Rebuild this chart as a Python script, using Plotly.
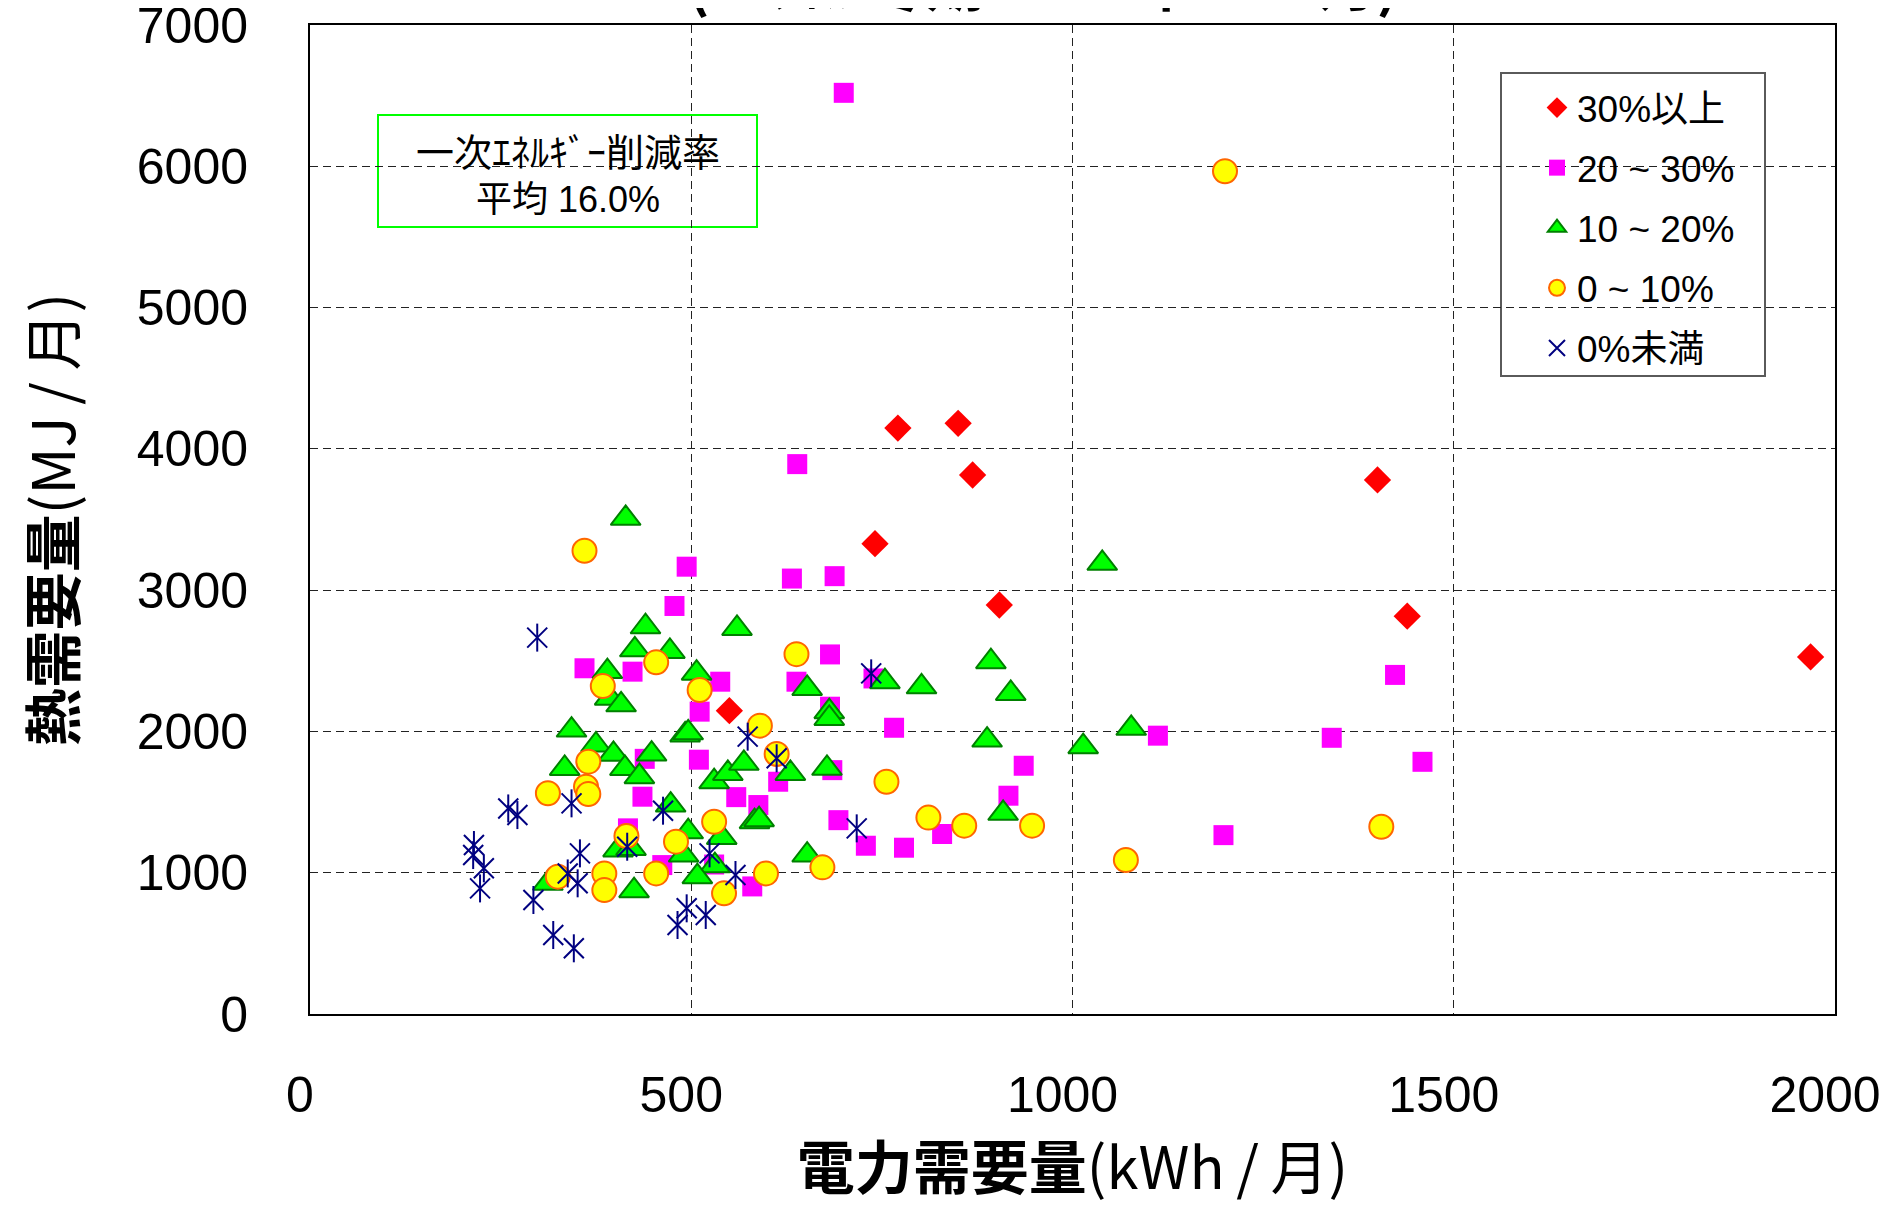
import plotly.graph_objects as go

# ---- data (kWh/月, MJ/月) ----
red_x = [771, 850, 869, 741, 904, 550, 1400, 1439, 1968]
red_y = [4147, 4181, 3815, 3329, 2895, 2147, 3780, 2816, 2527]

mag_x = [700, 639, 494, 632, 688, 478, 360, 423, 538, 638, 682, 739, 682, 511, 766,
         1112, 1340, 1423, 1459, 936, 439, 510, 685, 614, 436, 559, 588, 916, 693,
         729, 779, 829, 1198, 417, 462, 530, 580]
mag_y = [6520, 3892, 3166, 3082, 3099, 2888, 2447, 2423, 2352, 2352, 2545, 2375, 2175,
         2140, 2026, 1970, 1955, 2400, 1785, 1757, 1806, 1800, 1726, 1644, 1538, 1535,
         1479, 1545, 1372, 1191, 1177, 1274, 1266, 1314, 1054, 1058, 903]

grn_x = [414, 440, 560, 426, 472, 390, 507, 393, 408, 343, 492, 496, 375, 398, 448,
         334, 413, 432, 530, 548, 569, 630, 678, 652, 754, 802, 893, 919, 681, 681,
         888, 1014, 1077, 1039, 473, 583, 589, 496, 540, 404, 421, 490, 531, 508,
         312, 425, 652, 909]
grn_y = [3508, 2741, 2729, 2578, 2566, 2424, 2412, 2235, 2188, 2010, 1975, 1990, 1904,
         1838, 1840, 1738, 1738, 1680, 1644, 1703, 1774, 1703, 1739, 2304, 2352, 2316,
         2494, 2269, 2140, 2092, 1939, 1892, 2022, 3190, 1479, 1361, 1375, 1290, 1250,
         1161, 1172, 1125, 1050, 972, 925, 873, 1125, 1420]

yel_x = [1200, 360, 454, 384, 511, 638, 590, 612, 365, 362, 365, 312, 756, 811, 858,
         947, 1405, 1070, 672, 598, 543, 530, 480, 415, 454, 386, 386, 325]
yel_y = [5965, 3279, 2489, 2321, 2293, 2547, 2041, 1840, 1786, 1609, 1557, 1562, 1644,
         1390, 1333, 1333, 1325, 1090, 1038, 995, 854, 1361, 1220, 1260, 995, 995, 877, 972]

nav_x = [298, 736, 574, 612, 463, 343, 260, 272, 717, 215, 214, 228, 223, 416, 524,
         354, 338, 351, 558, 293, 319, 346, 494, 482, 519]
nav_y = [2664, 2411, 1963, 1810, 1439, 1491, 1455, 1408, 1314, 1196, 1125, 1031, 889,
         1184, 1137, 1137, 995, 925, 984, 807, 559, 465, 748, 630, 701]

series_names = ["30%以上", "20 ~ 30%", "10 ~ 20%", "0 ~ 10%", "0%未満"]
x_ticks = [0, 500, 1000, 1500, 2000]
y_ticks = [0, 1000, 2000, 3000, 4000, 5000, 6000, 7000]

LAT = "Liberation Sans, Arial, Noto Sans CJK JP, sans-serif"
JP = "Noto Sans CJK JP, sans-serif"
NAVY = "#000080"

fig = go.Figure()
fig.add_trace(go.Scatter(x=red_x, y=red_y, mode="markers", name=series_names[0],
                         legendgroup="a",
                         marker=dict(symbol="diamond", size=21, color="#FF0000",
                                     line=dict(width=0))))
fig.add_trace(go.Scatter(x=mag_x, y=mag_y, mode="markers", name=series_names[1],
                         legendgroup="b",
                         marker=dict(symbol="square", size=20, color="#FF00FF",
                                     line=dict(width=0))))
fig.add_trace(go.Scatter(x=grn_x, y=grn_y, mode="markers", name=series_names[2],
                         legendgroup="c",
                         marker=dict(symbol="triangle-up", size=26, color="#00FF00",
                                     line=dict(width=2, color="#008000"))))
fig.add_trace(go.Scatter(x=yel_x, y=yel_y, mode="markers", name=series_names[3],
                         legendgroup="d",
                         marker=dict(symbol="circle", size=24, color="#FFFF00",
                                     line=dict(width=2, color="#FF6600"))))
fig.add_trace(go.Scatter(x=nav_x, y=nav_y, mode="markers", name=series_names[4],
                         legendgroup="e", showlegend=False,
                         marker=dict(symbol="line-ns-open", size=20, color=NAVY,
                                     line=dict(width=2, color=NAVY))))
fig.add_trace(go.Scatter(x=nav_x, y=nav_y, mode="markers", name=series_names[4],
                         legendgroup="e",
                         marker=dict(symbol="x-thin-open", size=20, color=NAVY,
                                     line=dict(width=2, color=NAVY))))

grid = dict(showgrid=True, gridcolor="#222222", gridwidth=1, griddash="8px,5px",
            zeroline=False, showline=True, linecolor="black", linewidth=2,
            mirror=True, ticks="", automargin=False, ticklabeloverflow="allow")

T = "\u2009"
fig.update_xaxes(range=[0, 2000], tickvals=x_ticks, ticktext=[str(v) for v in x_ticks],
                 tickfont=dict(family=LAT, size=50, color="black"),
                 ticklabelstandoff=36, ticklabelshift=-10,
                 title=dict(text="<b>電力需要量</b>(kWh" + T + "/" + T + "月)",
                            font=dict(family=JP, size=58, color="black"), standoff=33),
                 **grid)
fig.update_yaxes(range=[0, 7000], tickvals=y_ticks, ticktext=[str(v) for v in y_ticks],
                 tickfont=dict(family=LAT, size=50, color="black"),
                 ticklabelstandoff=50,
                 title=dict(text="<b>熱需要量</b>(MJ" + T + "/" + T + "月)",
                            font=dict(family=JP, size=58, color="black"), standoff=63),
                 **grid)

# page has an 8px body margin: figure is sized/offset so the plot lands where the reference has it
fig.update_layout(
    width=1882, height=1198,
    margin=dict(l=302, r=55, t=17, b=192, autoexpand=False),
    paper_bgcolor="white", plot_bgcolor="white",
    title=dict(text="<b>(ｴｺｳｨﾙ 冬期 2005年1～3月)</b>", x=0.55, xanchor="center",
               yref="container", y=1.0, yanchor="bottom", pad=dict(b=2),
               font=dict(family=JP, size=58, color="black")),
    legend=dict(x=(1537 - 310) / 1525, xanchor="left", y=(1014 - 77) / 989,
                yanchor="top", bgcolor="rgba(0,0,0,0)", borderwidth=0,
                font=dict(family=LAT, size=37, color="black"),
                traceorder="grouped", tracegroupgap=9, itemwidth=30),
    showlegend=True,
    shapes=[dict(type="rect", xref="paper", yref="paper",
                 x0=(1501 - 310) / 1525, x1=(1765 - 310) / 1525,
                 y0=(1014 - 376) / 989, y1=(1014 - 73) / 989,
                 line=dict(color="#5a5a5a", width=2), fillcolor="white", layer="below"),
            dict(type="rect", xref="paper", yref="paper",
                 x0=(378 - 310) / 1525, x1=(757 - 310) / 1525,
                 y0=(1014 - 227) / 989, y1=(1014 - 115) / 989,
                 line=dict(color="#00FF00", width=2), fillcolor="white", layer="below")],
    annotations=[dict(text="一次ｴﾈﾙｷﾞｰ削減率", xref="paper", yref="paper",
                      x=(567.5 - 310) / 1525, y=(1014 - 150) / 989,
                      xanchor="center", yanchor="middle", showarrow=False,
                      font=dict(family=JP, size=38, color="black")),
                 dict(text="平均 16.0%", xref="paper", yref="paper",
                      x=(567.5 - 310) / 1525, y=(1014 - 199) / 989,
                      xanchor="center", yanchor="middle", showarrow=False,
                      font=dict(family=LAT, size=36, color="black"))],
)

fig.write_html("out.html")
